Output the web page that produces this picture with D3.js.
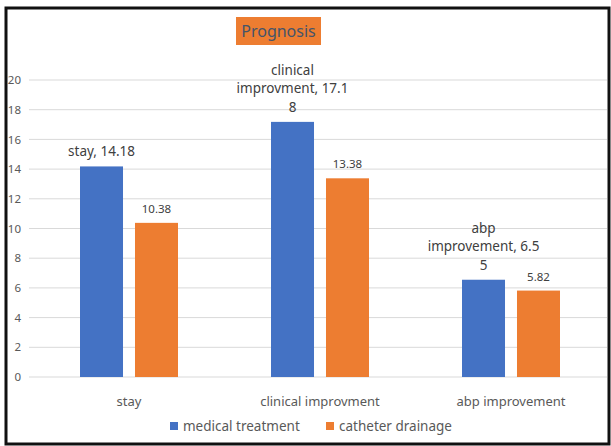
<!doctype html>
<html lang="">
<head>
<meta charset="utf-8">
<title>Prognosis</title>
<script src="https://d3js.org/d3.v7.min.js"></script>
<style>
  body { margin: 0; background: #fff; }
  text { font-family: "Noto Sans", "Open Sans", sans-serif; }
</style>
</head>
<body>
<div id="chart"></div>
<script type="text/javascript">

const categories = ['stay', 'clinical improvment', 'abp improvement']
const seriesNames = ['medical treatment', 'catheter drainage']
const medical = [14.18, 17.18, 6.55]
const catheter = [10.38, 13.38, 5.82]
// Excel wrapped the medical labels like this
const medicalLabelLines = [['stay, 14.18'], ['clinical', 'improvment, 17.1', '8'], ['abp', 'improvement, 6.5', '5']]
const yTicks = [0, 2, 4, 6, 8, 10, 12, 14, 16, 18, 20]
const colors = ['#4472C4', '#ED7D31']

const W = 611, H = 446

const svg = d3.select('#chart').append('svg')
    .attr('width', W).attr('height', H)

const x = d3.scaleBand().domain(categories).range([33.5, 606.5]).paddingInner(0.487).paddingOuter(0.2435)
const xi = d3.scaleBand().domain(seriesNames).range([0, x.bandwidth()]).paddingInner(0.218)
const y = d3.scaleLinear().domain([0, 20]).range([377, 80])

// gridlines
svg.append('g').selectAll('line')
    .data(yTicks)
    .join('line')
    .attr('x1', 29).attr('x2', 607)
    .attr('y1', d => y(d)).attr('y2', d => y(d))
    .attr('stroke', '#d9d9d9').attr('stroke-width', 1)

// y axis labels
const yAxis = svg.append('g').attr('transform', 'translate(21,0)')
    .call(d3.axisLeft(y).tickValues(yTicks).tickSize(0).tickPadding(0))
yAxis.select('.domain').remove()
yAxis.selectAll('text').attr('font-size', 11.5).attr('fill', '#595959')
    .style('font-family', '"Noto Sans", sans-serif')

const rows = categories.map((c, i) => ({ cat: c, vals: [medical[i], catheter[i]], i }))

const groups = svg.append('g').selectAll('g')
    .data(rows)
    .join('g')
    .attr('transform', d => `translate(${x(d.cat)},0)`)

groups.selectAll('rect')
    .data(d => d.vals.map((v, k) => ({ v, k })))
    .join('rect')
    .attr('x', d => xi(seriesNames[d.k]))
    .attr('width', xi.bandwidth())
    .attr('y', d => y(d.v))
    .attr('height', d => y(0) - y(d.v))
    .attr('fill', d => colors[d.k])

// catheter labels
groups.append('text')
    .attr('x', xi(seriesNames[1]) + xi.bandwidth() / 2)
    .attr('y', d => y(d.vals[1]) - 10)
    .attr('text-anchor', 'middle')
    .attr('font-size', 11.5)
    .attr('fill', '#404040')
    .text(d => d.vals[1])

// medical labels (wrapped)
groups.append('text')
    .attr('text-anchor', 'middle')
    .attr('font-size', 13.5)
    .attr('fill', '#404040')
    .each(function (d) {
        const lines = medicalLabelLines[d.i]
        const cx = xi(seriesNames[0]) + xi.bandwidth() / 2
        const last = y(d.vals[0]) - 10
        d3.select(this).selectAll('tspan')
            .data(lines)
            .join('tspan')
            .attr('x', cx)
            .attr('y', (l, j) => last - (lines.length - 1 - j) * 18.5)
            .text(l => l)
    })

// category labels
svg.append('g').selectAll('text')
    .data(categories)
    .join('text')
    .attr('x', d => x(d) + x.bandwidth() / 2)
    .attr('y', 406)
    .attr('text-anchor', 'middle')
    .attr('font-size', 13)
    .attr('fill', '#595959')
    .text(d => d)

// legend
const legend = svg.append('g')
const legX = [170, 326]
seriesNames.forEach((s, k) => {
    legend.append('rect').attr('x', legX[k]).attr('y', 422).attr('width', 8).attr('height', 8).attr('fill', colors[k])
    legend.append('text').attr('x', legX[k] + 13).attr('y', 431)
        .attr('font-size', 13.5).attr('fill', '#595959').text(s)
})

// title
svg.append('rect').attr('x', 236).attr('y', 17).attr('width', 85).attr('height', 28).attr('fill', '#ED7D31')
svg.append('text').attr('x', 278.5).attr('y', 37).attr('text-anchor', 'middle')
    .attr('font-size', 16).attr('fill', '#44546A').text('Prognosis')

// frame
svg.append('rect').attr('x', 6).attr('y', 8).attr('width', 603).attr('height', 436)
    .attr('fill', 'none').attr('stroke', '#111').attr('stroke-width', 3)

</script>
</body>
</html>
